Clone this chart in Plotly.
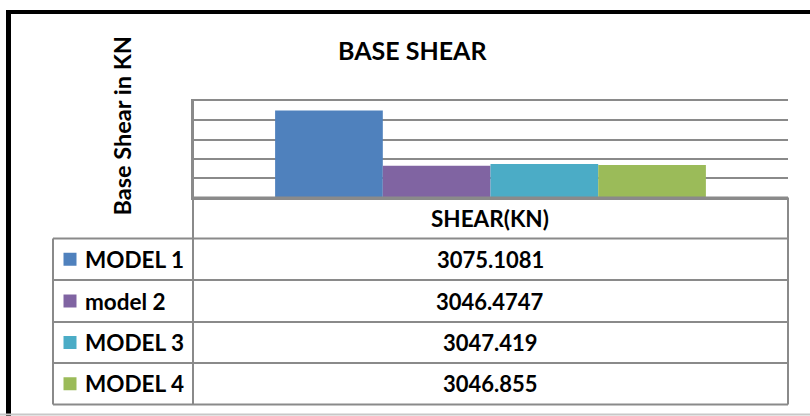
import plotly.graph_objects as go

categories = ["SHEAR(KN)"]
series_names = ["MODEL 1", "model 2", "MODEL 3", "MODEL 4"]
series_values = [3075.1081, 3046.4747, 3047.419, 3046.855]
value_labels = ["3075.1081", "3046.4747", "3047.419", "3046.855"]
colors = ["#4F81BD", "#8064A2", "#4BACC6", "#9BBB59"]
y_min, y_max, y_step = 3030, 3080, 10

W, H = 810, 416
def px(x):
    return x / W
def py(y):
    return 1 - y / H

FONT = "Lato, Open Sans, sans-serif"
GRID = "#8a8a8a"

fig = go.Figure()
for name, val, col in zip(series_names, series_values, colors):
    fig.add_trace(go.Bar(x=categories, y=[val], name=name, marker=dict(color=col, line=dict(width=0)),
                         showlegend=False))

shapes = []
def line(x0, y0, x1, y1, color=GRID, width=2):
    shapes.append(dict(type="line", xref="paper", yref="paper", x0=px(x0), y0=py(y0), x1=px(x1), y1=py(y1),
                       line=dict(color=color, width=width)))

# outer frame
line(6, 12, 810, 12, color="#000000", width=4)
line(8.5, 10, 8.5, 416, color="#000000", width=5)
line(0, 414.5, 810, 414.5, color="#c8c8c8", width=2)

# data table
row_y = [197.5, 238.5, 280, 322, 363, 404.5]
line(193, 101, 193, row_y[-1])
line(788, row_y[0], 788, row_y[-1])
line(53, row_y[1], 53, row_y[-1])
line(193, row_y[0], 788, row_y[0])
for yy in row_y[1:]:
    line(53, yy, 788, yy)

annotations = []
annotations.append(dict(text="<b>" + categories[0] + "</b>", x=px(490.5), y=py((row_y[0] + row_y[1]) / 2),
                        xref="paper", yref="paper", showarrow=False, xanchor="center", yanchor="middle",
                        font=dict(family=FONT, size=22.5, color="#000000")))
for i, (name, lab, col) in enumerate(zip(series_names, value_labels, colors)):
    yc = (row_y[i + 1] + row_y[i + 2]) / 2
    shapes.append(dict(type="rect", xref="paper", yref="paper", x0=px(63.5), x1=px(76.5), y0=py(yc - 6.5), y1=py(yc + 6.5),
                       fillcolor=col, line=dict(width=0)))
    annotations.append(dict(text="<b>" + name + "</b>", x=px(83), y=py(yc), xref="paper", yref="paper", showarrow=False,
                            xanchor="left", yanchor="middle", font=dict(family=FONT, size=22.5, color="#000000")))
    annotations.append(dict(text="<b>" + lab + "</b>", x=px(490.5), y=py(yc), xref="paper", yref="paper", showarrow=False,
                            xanchor="center", yanchor="middle", font=dict(family=FONT, size=22, color="#000000")))

annotations.append(dict(text="<b>BASE SHEAR</b>", x=px(412.5), y=py(50), xref="paper", yref="paper", showarrow=False,
                        xanchor="center", yanchor="middle", font=dict(family=FONT, size=25, color="#000000")))
annotations.append(dict(text="<b>Base Shear in KN</b>", x=px(122), y=py(126.5), xref="paper", yref="paper", showarrow=False,
                        xanchor="center", yanchor="middle", textangle=-90, font=dict(family=FONT, size=23.5, color="#000000")))

fig.update_layout(
    width=W, height=H, autosize=False,
    margin=dict(l=0, r=0, t=0, b=0),
    paper_bgcolor="#ffffff", plot_bgcolor="#ffffff",
    barmode="group", bargap=0.276, bargroupgap=0,
    shapes=shapes, annotations=annotations,
    xaxis=dict(domain=[px(193), px(788)], showticklabels=False, showgrid=False, zeroline=False,
               showline=True, linecolor=GRID, linewidth=2, mirror=True, ticks=""),
    yaxis=dict(domain=[py(197.5), py(101)], range=[y_min, y_max], tick0=y_min, dtick=y_step,
               showticklabels=False, showgrid=True, gridcolor=GRID, gridwidth=2, zeroline=False,
               showline=True, linecolor=GRID, linewidth=2, ticks=""),
)

fig.write_html("out.html", config={"displayModeBar": False},
               post_script="document.body.style.margin='0';document.body.style.padding='0';")
